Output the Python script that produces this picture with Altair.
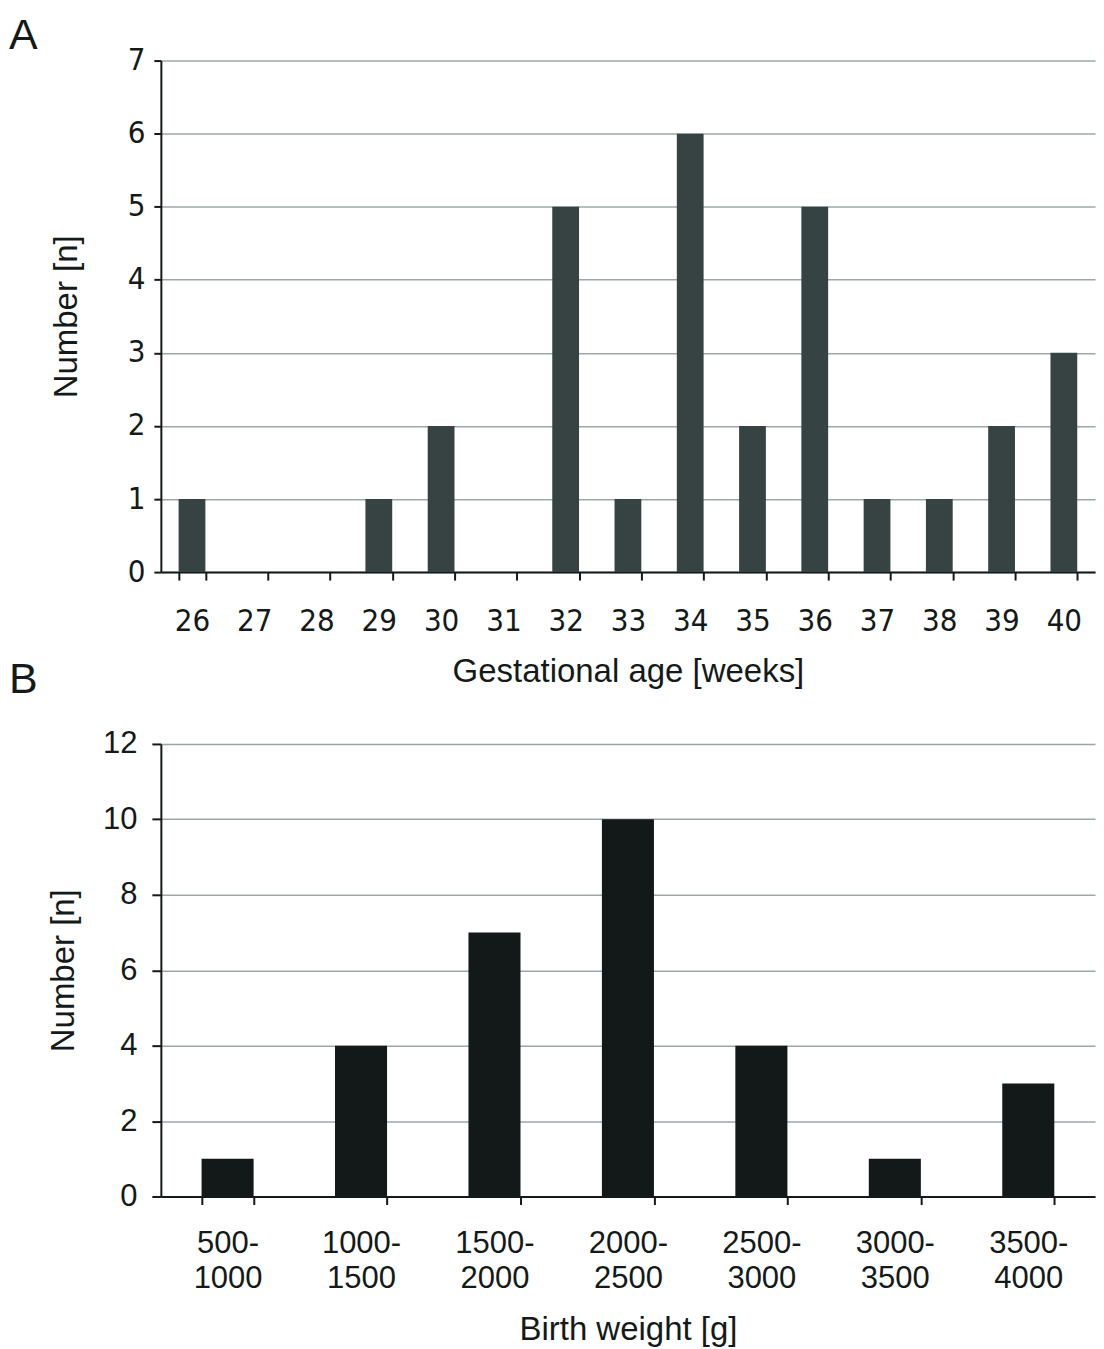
import altair as alt
import pandas as pd

# ---- data ----
ages = ["26", "27", "28", "29", "30", "31", "32", "33", "34", "35", "36", "37", "38", "39", "40"]
counts_age = [1, 0, 0, 1, 2, 0, 5, 1, 6, 2, 5, 1, 1, 2, 3]

weights = ["500-\n1000", "1000-\n1500", "1500-\n2000", "2000-\n2500",
           "2500-\n3000", "3000-\n3500", "3500-\n4000"]
counts_weight = [1, 4, 7, 10, 4, 1, 3]

yticks_a = [0, 1, 2, 3, 4, 5, 6, 7]
yticks_b = [0, 2, 4, 6, 8, 10, 12]

panel_labels = ["A", "B"]

# ---- styles ----
NARROW = "DejaVu Sans Condensed, Liberation Sans Narrow, sans-serif"
SANS = "Liberation Sans, Arial, Helvetica, sans-serif"
INK = "#141a1a"
GRID = "#9ca8a8"
BAR_A = "#374343"
BAR_B = "#131919"

dfa = pd.DataFrame({"age": ages, "n": counts_age})
dfb = pd.DataFrame({"w": weights, "n": counts_weight})

common_axis = dict(domainColor=INK, domainWidth=2, tickColor=INK, tickWidth=2,
                   labelColor=INK, titleColor=INK, titleFont=SANS,
                   titleFontWeight="normal", titleFontSize=33)

W = 935

bars_a = alt.Chart(dfa).mark_bar(color=BAR_A).encode(
    x=alt.X("age:N", sort=ages, title="Gestational age [weeks]",
            scale=alt.Scale(paddingInner=0.57, paddingOuter=0.285),
            axis=alt.Axis(labelAngle=0, tickBand="extent", tickSize=8,
                          labelPadding=26, labelFont=NARROW, labelFontSize=31,
                          titlePadding=20, grid=False, **common_axis)),
    y=alt.Y("n:Q", title="Number [n]",
            scale=alt.Scale(domain=[0, 7], nice=False),
            axis=alt.Axis(values=yticks_a, tickSize=7, labelPadding=9,
                          labelFont=NARROW, labelFontSize=31,
                          grid=True, gridColor=GRID, gridWidth=1.5,
                          titlePadding=44, **common_axis)),
)

lab_a = alt.Chart(pd.DataFrame({"t": [panel_labels[0]]})).mark_text(
    font=SANS, fontSize=43, align="left", baseline="top", color=INK
).encode(x=alt.value(-152), y=alt.value(-46), text="t:N")

lab_b = alt.Chart(pd.DataFrame({"t": [panel_labels[1]]})).mark_text(
    font=SANS, fontSize=43, align="left", baseline="top", color=INK
).encode(x=alt.value(-152), y=alt.value(599), text="t:N")

chart_a = alt.layer(bars_a, lab_a, lab_b).properties(width=W, height=512)

chart_b = alt.Chart(dfb).mark_bar(color=BAR_B).encode(
    x=alt.X("w:N", sort=weights, title="Birth weight [g]",
            scale=alt.Scale(paddingInner=0.61, paddingOuter=0.305),
            axis=alt.Axis(labelAngle=0, tickBand="extent", tickSize=8,
                          labelPadding=24, labelFont=SANS, labelFontSize=31,
                          labelExpr="split(datum.label, '\\n')",
                          labelLineHeight=35,
                          titlePadding=20, grid=False, **common_axis)),
    y=alt.Y("n:Q", title="Number [n]",
            scale=alt.Scale(domain=[0, 12], nice=False),
            axis=alt.Axis(values=yticks_b, tickSize=9, labelPadding=15,
                          labelFont=SANS, labelFontSize=31,
                          grid=True, gridColor=GRID, gridWidth=1.5,
                          titlePadding=22, **common_axis)),
).properties(width=W, height=453)

chart = alt.vconcat(chart_a, chart_b, spacing=24).properties(
    padding={"top": 5, "left": 0, "right": 0, "bottom": 0}, background="white"
).configure_view(stroke="transparent")

chart.save("out.html", embed_options={"renderer": "svg", "actions": False})
